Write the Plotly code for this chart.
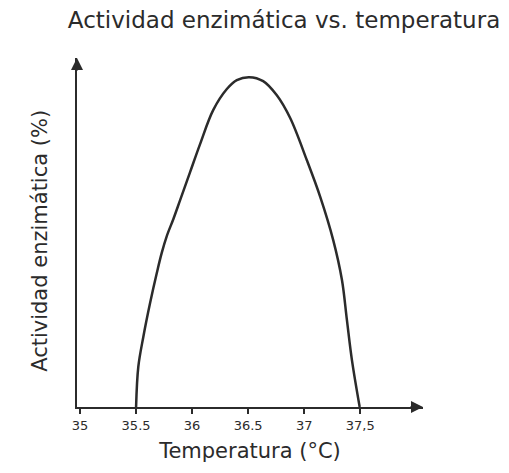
import plotly.graph_objects as go

# Data
temperatura = [35.50, 35.52, 35.565, 35.625, 35.685, 35.729, 35.774, 35.833, 35.893, 35.982,
               36.071, 36.188, 36.310, 36.399, 36.509, 36.634, 36.756, 36.875, 37.024, 37.143,
               37.259, 37.337, 37.381, 37.426, 37.495]
actividad = [0, 12.2, 21.3, 31.5, 40.6, 46.7, 51.8, 57.0, 62.7, 71.2,
             79.7, 90.0, 96.4, 99.1, 100, 98.8, 94.5, 87.6, 74.8, 63.7,
             50.6, 38.5, 26.4, 14.2, 0]
tick_vals = [35, 35.5, 36, 36.5, 37, 37.5]
tick_text = ["35", "35.5", "36", "36.5", "37", "37,5"]

ink = "#2b2b2b"
font = "DejaVu Sans"

fig = go.Figure()
fig.add_trace(go.Scatter(x=temperatura, y=actividad, mode="lines",
                         line=dict(color=ink, width=2.5, shape="spline", smoothing=1.0),
                         hoverinfo="skip", showlegend=False))

# The page body adds an 8px margin, so the figure is 8px smaller than the window.
fig.update_layout(
    width=501, height=465,
    paper_bgcolor="white", plot_bgcolor="white",
    margin=dict(l=69, r=86, t=50, b=66, autoexpand=False),
    title=dict(text="Actividad enzimática vs. temperatura", x=0.551, xanchor="center",
               y=0.974, yanchor="middle", font=dict(family=font, size=23, color=ink)),
    xaxis=dict(range=[34.973, 38.06], showgrid=False, zeroline=False, automargin=False,
               showline=True, linecolor=ink, linewidth=2,
               tickvals=tick_vals, ticktext=tick_text, ticks="outside", ticklen=5,
               tickwidth=2, tickcolor=ink,
               tickfont=dict(family=font, size=13, color=ink),
               title=dict(text="Temperatura (°C)", standoff=12,
                          font=dict(family=font, size=21, color=ink))),
    yaxis=dict(range=[0, 105.8], showgrid=False, zeroline=False, automargin=False,
               showline=True, linecolor=ink, linewidth=2,
               showticklabels=False, ticks=""),
    annotations=[
        dict(x=-0.107, y=0.476, xref="paper", yref="paper", text="Actividad enzimática (%)",
             textangle=-90, showarrow=False, xanchor="center", yanchor="middle",
             font=dict(family=font, size=21, color=ink)),
        dict(x=0, y=1, xref="paper", yref="paper", text="", showarrow=True,
             ax=0, ay=14, arrowhead=2, arrowsize=1.2, arrowwidth=2, arrowcolor=ink),
        dict(x=1, y=0, xref="paper", yref="paper", text="", showarrow=True,
             ax=-14, ay=0, arrowhead=2, arrowsize=1.2, arrowwidth=2, arrowcolor=ink),
    ],
)

fig.write_html("out.html")
